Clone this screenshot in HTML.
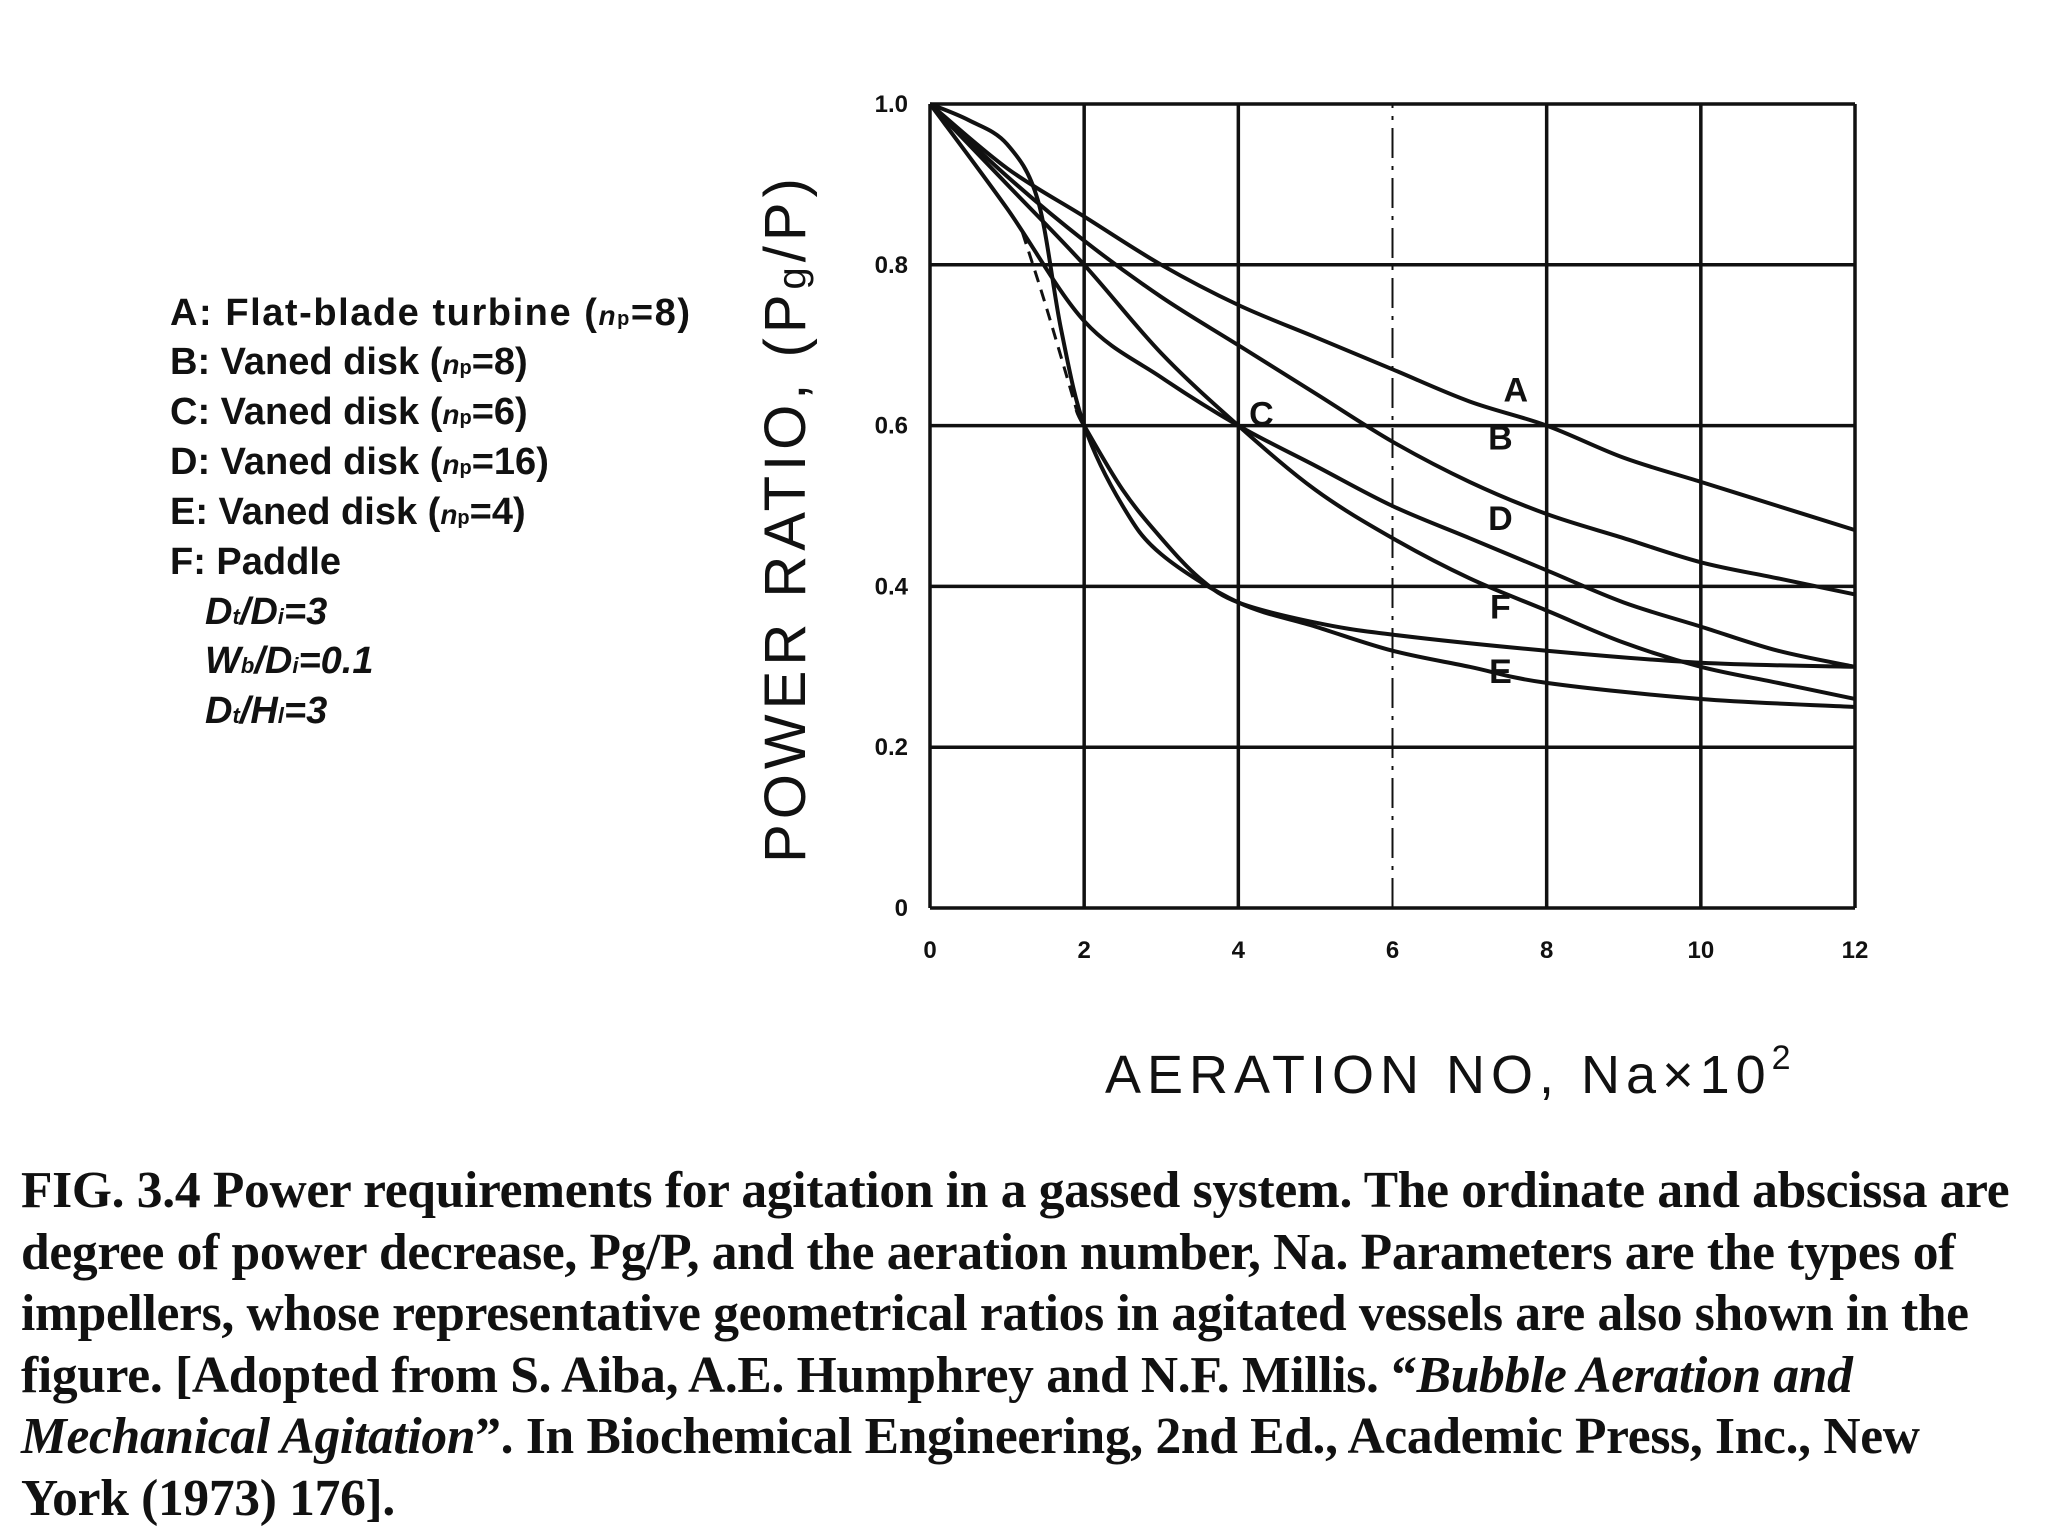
<!DOCTYPE html>
<html><head><meta charset="utf-8">
<style>
html,body{margin:0;padding:0;background:#fff;}
body{width:2048px;height:1536px;position:relative;overflow:hidden;}
#cap{position:absolute;left:21px;top:1160px;width:2040px;font-family:"Liberation Serif",serif;font-weight:bold;font-size:51.5px;line-height:61.5px;color:#111;white-space:nowrap;letter-spacing:-0.3px;}
</style></head>
<body>
<svg id="chart" width="2048" height="1150" style="position:absolute;left:0;top:0" xmlns="http://www.w3.org/2000/svg">
<g font-family="Liberation Sans, sans-serif" font-size="38" font-weight="bold" fill="#111">
<text x="170" y="325" textLength="520">A: Flat-blade turbine (<tspan font-style="italic" font-size="28">n</tspan><tspan font-size="20">p</tspan>=8)</text>
<text x="170" y="374">B: Vaned disk (<tspan font-style="italic" font-size="28">n</tspan><tspan font-size="20">p</tspan>=8)</text>
<text x="170" y="424">C: Vaned disk (<tspan font-style="italic" font-size="28">n</tspan><tspan font-size="20">p</tspan>=6)</text>
<text x="170" y="474">D: Vaned disk (<tspan font-style="italic" font-size="28">n</tspan><tspan font-size="20">p</tspan>=16)</text>
<text x="170" y="524">E: Vaned disk (<tspan font-style="italic" font-size="28">n</tspan><tspan font-size="20">p</tspan>=4)</text>
<text x="170" y="574">F: Paddle</text>
<text x="205" y="624" font-style="italic">D<tspan font-size="22">t</tspan>/D<tspan font-size="22">i</tspan>=3</text>
<text x="205" y="673" font-style="italic">W<tspan font-size="22">b</tspan>/D<tspan font-size="22">i</tspan>=0.1</text>
<text x="205" y="723" font-style="italic">D<tspan font-size="22">t</tspan>/H<tspan font-size="22">l</tspan>=3</text>
</g>
<text transform="translate(805,518) rotate(-90)" text-anchor="middle" font-family="Liberation Sans, sans-serif" font-size="58" fill="#111" letter-spacing="5">POWER RATIO, (P<tspan font-size="40">g</tspan>/P)</text>
<text x="1105" y="1093" font-family="Liberation Sans, sans-serif" font-size="54" fill="#111" letter-spacing="6">AERATION NO, Na×10<tspan dy="-24" font-size="34">2</tspan></text>
<g id="grid"></g><g id="ticks" font-family="Liberation Sans, sans-serif" font-size="24" font-weight="bold" fill="#111"></g><g id="curves"></g><g id="labels" font-family="Liberation Sans, sans-serif" font-size="34" font-weight="bold" fill="#111"></g>
</svg>
<div id="cap">FIG. 3.4 Power requirements for agitation in a gassed system. The ordinate and abscissa are<br>degree of power decrease, Pg/P, and the aeration number, Na. Parameters are the types of<br>impellers, whose representative geometrical ratios in agitated vessels are also shown in the<br>figure. [Adopted from S. Aiba, A.E. Humphrey and N.F. Millis. “<i>Bubble Aeration and</i><br><i>Mechanical Agitation</i>”. In Biochemical Engineering, 2nd Ed., Academic Press, Inc., New<br>York (1973) 176].</div>
<script>
const xTicks=[0,2,4,6,8,10,12];
const yTicks=[0,0.2,0.4,0.6,0.8,1.0];
const yTickLabels=["0","0.2","0.4","0.6","0.8","1.0"];
const seriesNames=["A","B","C","D","E","F"];
const xA=[0,1,2,3,4,5,6,7,8,9,10,11,12];
const yA=[1,0.92,0.86,0.80,0.75,0.71,0.67,0.63,0.60,0.56,0.53,0.50,0.47];
const xB=[0,1,2,3,4,5,6,7,8,9,10,11,12];
const yB=[1,0.91,0.83,0.76,0.70,0.64,0.58,0.53,0.49,0.46,0.43,0.41,0.39];
const xC=[0,1,2,3,4,5,6,7,8,9,10,11,12];
const yC=[1,0.90,0.80,0.69,0.60,0.52,0.46,0.41,0.37,0.33,0.30,0.28,0.26];
const xD=[0,1,2,3,4,5,6,7,8,9,10,11,12];
const yD=[1,0.87,0.73,0.66,0.60,0.55,0.50,0.46,0.42,0.38,0.35,0.32,0.30];
const xE=[0,0.5,1,1.4,1.7,2,2.5,3,4,5,6,7,8,10,12];
const yE=[1,0.98,0.95,0.88,0.72,0.60,0.50,0.44,0.38,0.35,0.32,0.30,0.28,0.26,0.25];
const xFd=[1.2,1.5,1.9];
const yFd=[0.84,0.75,0.62];
const xF=[1.9,2,2.5,3,3.5,4,5,6,8,10,12];
const yF=[0.62,0.60,0.52,0.46,0.41,0.38,0.355,0.34,0.32,0.305,0.30];
const labelX=[7.6,7.4,4.3,7.4,7.4,7.4];
const labelY=[0.63,0.57,0.60,0.47,0.28,0.36];

const L=930,R=1855,T=104,B=908;
const sx=v=>L+(v/12)*(R-L);
const sy=v=>B-v*(B-T);
const NS="http://www.w3.org/2000/svg";
function mk(tag,attrs,parent){const e=document.createElementNS(NS,tag);for(const k in attrs)e.setAttribute(k,attrs[k]);parent.appendChild(e);return e;}
const grid=document.getElementById('grid');
xTicks.forEach(v=>{
  const l=mk('line',{x1:sx(v),x2:sx(v),y1:sy(0),y2:sy(1),stroke:'#111','stroke-width':v===6?2:3.5,'stroke-dasharray':v===6?'30 8 4 8':'none'},grid);
  
  
});
yTicks.forEach(v=>{
  const l=mk('line',{x1:sx(0),x2:sx(12),y1:sy(v),y2:sy(v),stroke:'#111','stroke-width':3.5},grid);
  
  
});
const ticks=document.getElementById('ticks');
xTicks.forEach(v=>{
  const t=mk('text',{x:sx(v),y:B+50,'text-anchor':'middle'},ticks);t.textContent=String(v);
  
  
});
yTicks.forEach((v,i)=>{
  const t=mk('text',{x:L-22,y:sy(v)+8,'text-anchor':'end'},ticks);t.textContent=yTickLabels[i];
  
  
});
function pathFrom(xs,ys){
  const p=xs.map((x,i)=>[sx(x),sy(ys[i])]);
  let d='M'+p[0][0]+','+p[0][1];
  for(let i=0;i<p.length-1;i++){
    const p0=p[i-1]||p[i],p1=p[i],p2=p[i+1],p3=p[i+2]||p2;
    const c1=[p1[0]+(p2[0]-p0[0])/6,p1[1]+(p2[1]-p0[1])/6];
    const c2=[p2[0]-(p3[0]-p1[0])/6,p2[1]-(p3[1]-p1[1])/6];
    d+=' C'+c1+' '+c2+' '+p2;
  }
  return d;
}
const curves=document.getElementById('curves');
const sets=[[xA,yA],[xB,yB],[xC,yC],[xD,yD],[xE,yE],[xF,yF]];
sets.forEach((s,i)=>{
  const p=mk('path',{d:pathFrom(s[0],s[1]),fill:'none',stroke:'#111','stroke-width':4},curves);
  
  
});
const fd=mk('path',{d:pathFrom(xFd,yFd),fill:'none',stroke:'#111','stroke-width':3,'stroke-dasharray':'12 8'},curves);


const labels=document.getElementById('labels');
seriesNames.forEach((n,i)=>{
  const t=mk('text',{x:sx(labelX[i]),y:sy(labelY[i]),'text-anchor':'middle'},labels);t.textContent=n;
  
  
});
</script>
</body></html>
